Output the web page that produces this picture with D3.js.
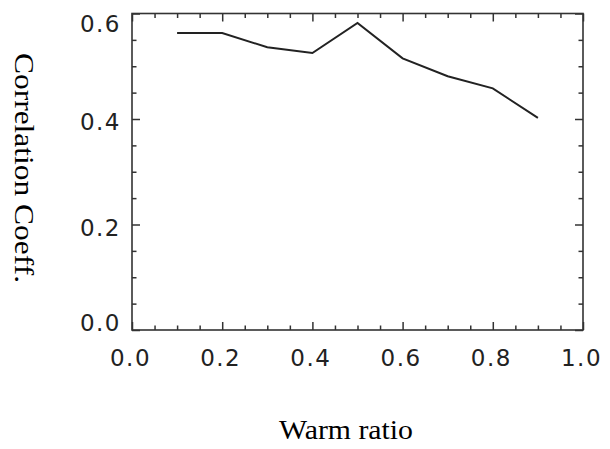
<!DOCTYPE html>
<meta charset="utf-8">
<script src="https://d3js.org/d3.v7.min.js"></script>
<style>
  body { margin: 0; background: #fff; }
  .tick text { font-family: "DejaVu Sans", sans-serif; font-size: 23px; fill: #222; letter-spacing: 1.5px; }
  .domain { display: none; }
  .tick line { stroke: #333; stroke-width: 1.5; }
</style>
<div id="my_viz"></div>
<script>

// data
var warmRatio = [0.1, 0.2, 0.3, 0.4, 0.5, 0.6, 0.7, 0.8, 0.9];
var corrCoeff = [0.563, 0.563, 0.536, 0.525, 0.582, 0.515, 0.481, 0.458, 0.402];

var xMajor = [0.0, 0.2, 0.4, 0.6, 0.8, 1.0];
var xMinor = [0.05, 0.1, 0.15, 0.25, 0.3, 0.35, 0.45, 0.5, 0.55, 0.65, 0.7, 0.75, 0.85, 0.9, 0.95];
var yMajor = [0.0, 0.2, 0.4, 0.6];
var yMinor = [0.05, 0.1, 0.15, 0.25, 0.3, 0.35, 0.45, 0.5, 0.55];

//Canvas variables
var margin = {top: 13.5, right: 27, bottom: 119, left: 132},
    width = 610 - margin.left - margin.right,
    height = 449 - margin.top - margin.bottom;

var svg = d3.select("#my_viz")
  .append("svg")
    .attr("width", 610)
    .attr("height", 449)
  .append("g")
    .attr("transform", "translate(" + margin.left + "," + margin.top + ")");

var x = d3.scaleLinear().domain([0, 1]).range([0, width]);
var y = d3.scaleLinear().domain([0, 0.6]).range([height, 0]);

// bottom axis, major + minor
svg.append("g")
  .attr("transform", "translate(0," + height + ")")
  .call(d3.axisBottom(x).tickValues(xMajor).tickSize(-8).tickPadding(20)
    .tickFormat(d3.format(".1f")))
  .selectAll(".tick text").attr("dx", "-2");
svg.append("g")
  .attr("transform", "translate(0," + height + ")")
  .call(d3.axisBottom(x).tickValues(xMinor).tickSize(-4.5).tickFormat(""));

// top axis
svg.append("g")
  .call(d3.axisTop(x).tickValues(xMajor).tickSize(-8).tickFormat(""));
svg.append("g")
  .call(d3.axisTop(x).tickValues(xMinor).tickSize(-4.5).tickFormat(""));

// left axis
var yLabelShift = {"0.0": -8, "0.2": 2.5, "0.4": 2.5, "0.6": 10};
svg.append("g")
  .call(d3.axisLeft(y).tickValues(yMajor).tickSize(-8).tickPadding(11)
    .tickFormat(d3.format(".1f")))
  .selectAll(".tick text")
    .attr("dy", function(d) { return (yLabelShift[d3.format(".1f")(d)] + 8) + "px"; });
svg.append("g")
  .call(d3.axisLeft(y).tickValues(yMinor).tickSize(-4.5).tickFormat(""));

// right axis
svg.append("g")
  .attr("transform", "translate(" + width + ",0)")
  .call(d3.axisRight(y).tickValues(yMajor).tickSize(-8).tickFormat(""));
svg.append("g")
  .attr("transform", "translate(" + width + ",0)")
  .call(d3.axisRight(y).tickValues(yMinor).tickSize(-4.5).tickFormat(""));

// frame
svg.append("rect")
  .attr("x", 0).attr("y", 0)
  .attr("width", width).attr("height", height)
  .style("fill", "none")
  .style("stroke", "#333")
  .style("stroke-width", 1.6);

// the line
var pts = warmRatio.map(function(d, i) { return [d, corrCoeff[i]]; });
svg.append("path")
  .datum(pts)
  .attr("d", d3.line().x(function(d) { return x(d[0]); }).y(function(d) { return y(d[1]); }))
  .style("fill", "none")
  .style("stroke", "#222")
  .style("stroke-width", 2);

// X axis title
svg.append("text")
  .attr("x", 279 - margin.left)
  .attr("y", 439 - margin.top)
  .attr("textLength", 134)
  .attr("lengthAdjust", "spacingAndGlyphs")
  .style("font-family", "'Liberation Serif', 'Times New Roman', serif")
  .style("font-size", "28px")
  .style("fill", "#000")
  .text("Warm ratio");

// Y axis title (reads top to bottom)
svg.append("text")
  .attr("transform", "translate(" + (15 - margin.left) + "," + (53 - margin.top) + ") rotate(90)")
  .attr("textLength", 230)
  .attr("lengthAdjust", "spacingAndGlyphs")
  .style("font-family", "'Liberation Serif', 'Times New Roman', serif")
  .style("font-size", "28px")
  .style("fill", "#000")
  .text("Correlation Coeff.");

</script>
